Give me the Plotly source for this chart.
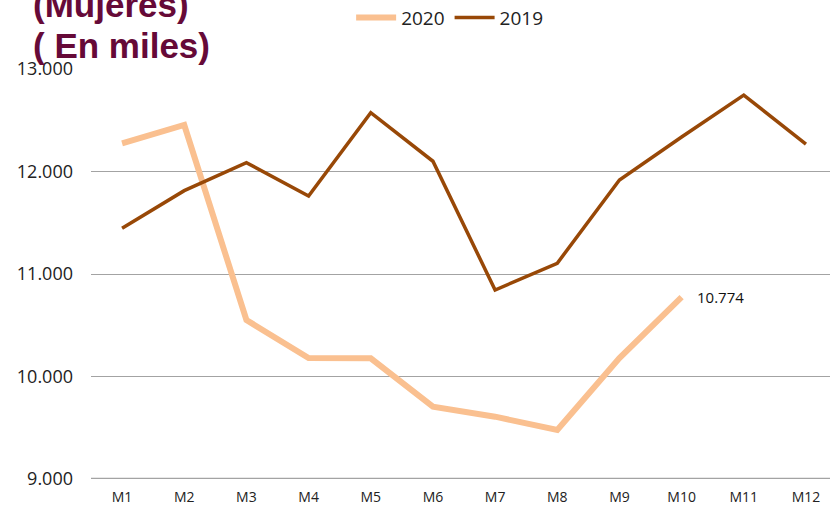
import plotly.graph_objects as go

months = ["M1", "M2", "M3", "M4", "M5", "M6", "M7", "M8", "M9", "M10", "M11", "M12"]
values_2020 = [12275, 12454, 10551, 10180, 10178, 9705, 9608, 9478, 10180, 10774]
values_2019 = [11446, 11813, 12086, 11761, 12574, 12100, 10844, 11105, 11917, 12337, 12746, 12268]
y_ticks = [9000, 10000, 11000, 12000, 13000]
y_tick_labels = ["9.000", "10.000", "11.000", "12.000", "13.000"]
last_label = "10.774"

fig = go.Figure()
fig.add_trace(go.Scatter(
    x=months[:len(values_2020)], y=values_2020, mode="lines", name="2020",
    line=dict(color="#FAC090", width=6),
))
fig.add_trace(go.Scatter(
    x=months, y=values_2019, mode="lines", name="2019",
    line=dict(color="#984807", width=3.5),
))

fig.add_annotation(
    x=months[len(values_2020) - 1], y=values_2020[-1], xref="x", yref="y",
    text=last_label, showarrow=False, xanchor="left", xshift=13, yshift=0,
    font=dict(family="Open Sans", size=15, color="#111111"),
)

title_font = dict(family="Liberation Sans, Arial", size=35, color="#660A38", weight="bold")
fig.add_annotation(x=-0.0814, y=1.1573, xref="paper", yref="paper", text="(Mujeres)",
                   showarrow=False, xanchor="left", yanchor="middle", font=title_font)
fig.add_annotation(x=-0.0814, y=1.0585, xref="paper", yref="paper", text="( En miles)",
                   showarrow=False, xanchor="left", yanchor="middle", font=title_font)

fig.update_layout(
    width=830, height=505,
    margin=dict(l=91, r=0, t=69, b=26, autoexpand=False),
    paper_bgcolor="white", plot_bgcolor="white",
    showlegend=True,
    legend=dict(orientation="h", x=0.352, y=1.125, xanchor="left", yanchor="middle",
                font=dict(family="Open Sans", size=19, color="#222222"),
                bgcolor="rgba(0,0,0,0)", itemwidth=40, tracegroupgap=0),
    font=dict(family="Open Sans"),
)
fig.update_xaxes(
    type="category", categoryorder="array", categoryarray=months,
    range=[-0.5, 11.387], showgrid=False, showline=False, zeroline=False,
    ticks="", ticklabelstandoff=8, tickfont=dict(size=14, color="#222222"),
    automargin=False,
)
fig.update_yaxes(
    range=[9000, 13000], tickvals=y_ticks, ticktext=y_tick_labels,
    showgrid=True, gridcolor="#A3A3A3", gridwidth=1.3, zeroline=False,
    showline=False, ticks="", ticklabelstandoff=17, automargin=False,
    tickfont=dict(size=18, color="#222222"),
)
fig.add_shape(type="line", xref="paper", yref="y", x0=0, x1=1, y0=9000, y1=9000,
              line=dict(color="#A3A3A3", width=2.5), layer="below")

fig.write_html(
    "out.html",
    config={"displayModeBar": False},
    post_script="document.body.style.margin='0';document.body.style.overflow='hidden';",
)
